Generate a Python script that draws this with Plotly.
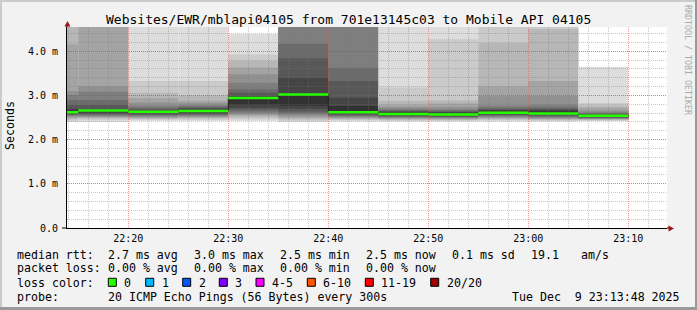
import plotly.graph_objects as go

# ---------------- data ----------------
DAY = "2025-12-09"
step_end = ["22:15", "22:20", "22:25", "22:30", "22:35", "22:40",
            "22:45", "22:50", "22:55", "23:00", "23:05", "23:10"]
step_minutes = 5
median_ms = [2.62, 2.66, 2.63, 2.65, 2.94, 3.02, 2.62, 2.58, 2.57, 2.61, 2.59, 2.54]

# sorted ping round-trip times (20 pings per step), ms
pings_2215 = [2.40, 2.43, 2.46, 2.49, 2.52, 2.54, 2.56, 2.57, 2.59, 2.60,
              2.66, 2.70, 2.79, 2.89, 3.01, 3.10, 4.16, 4.80, 4.90, 5.00]
pings_2220 = [2.40, 2.45, 2.48, 2.50, 2.52, 2.54, 2.56, 2.58, 2.60, 2.63,
              2.67, 2.69, 2.79, 2.89, 3.09, 3.21, 4.80, 4.90, 5.00, 5.10]
pings_2225 = [2.42, 2.45, 2.47, 2.49, 2.51, 2.53, 2.55, 2.57, 2.59, 2.62,
              2.64, 2.66, 2.69, 2.72, 2.77, 2.84, 2.94, 3.06, 3.33, 5.00]
pings_2230 = [2.42, 2.45, 2.48, 2.50, 2.52, 2.54, 2.56, 2.58, 2.60, 2.63,
              2.67, 2.70, 2.72, 2.75, 2.78, 2.83, 2.88, 3.00, 3.33, 5.00]
pings_2235 = [2.42, 2.46, 2.50, 2.54, 2.57, 2.60, 2.64, 2.68, 2.72, 2.79,
              2.95, 2.99, 3.06, 3.14, 3.29, 3.48, 3.63, 3.78, 3.93, 4.39]
pings_2240 = [2.40, 2.43, 2.46, 2.49, 2.53, 2.57, 2.60, 2.64, 2.70, 2.77,
              3.03, 3.40, 3.84, 4.17, 4.80, 4.90, 5.00, 5.10, 5.20, 5.30]
pings_2245 = [2.41, 2.44, 2.46, 2.48, 2.50, 2.52, 2.54, 2.56, 2.58, 2.60,
              2.76, 2.95, 3.33, 3.63, 4.80, 4.90, 5.00, 5.10, 5.20, 5.30]
pings_2250 = [2.41, 2.43, 2.45, 2.47, 2.48, 2.50, 2.51, 2.53, 2.55, 2.57,
              2.61, 2.63, 2.65, 2.67, 2.70, 2.74, 2.79, 2.88, 3.18, 5.00]
pings_2255 = [2.41, 2.43, 2.45, 2.46, 2.48, 2.49, 2.51, 2.52, 2.54, 2.56,
              2.60, 2.62, 2.64, 2.66, 2.69, 2.74, 2.82, 2.89, 4.27, 5.00]
pings_2300 = [2.41, 2.44, 2.46, 2.48, 2.50, 2.52, 2.54, 2.56, 2.58, 2.60,
              2.64, 2.67, 2.69, 2.72, 2.77, 2.98, 3.21, 4.19, 5.00, 5.10]
pings_2305 = [2.41, 2.43, 2.45, 2.47, 2.48, 2.50, 2.52, 2.54, 2.56, 2.58,
              2.64, 2.67, 2.70, 2.73, 2.79, 2.99, 3.33, 4.50, 4.60, 5.00]
pings_2310 = [2.42, 2.43, 2.45, 2.46, 2.47, 2.48, 2.49, 2.50, 2.51, 2.53,
              2.56, 2.57, 2.58, 2.60, 2.62, 2.66, 2.72, 2.77, 2.83, 3.65]
step_pings = [pings_2215, pings_2220, pings_2225, pings_2230, pings_2235, pings_2240,
              pings_2245, pings_2250, pings_2255, pings_2300, pings_2305, pings_2310]

x_range = [DAY + " 22:13:52", DAY + " 23:13:52"]
y_max = 4.55
y_tick_vals = [0, 1, 2, 3, 4]
y_tick_text = ["0.0", "1.0 m", "2.0 m", "3.0 m", "4.0 m"]

title_text = "Websites/EWR/mblapi04105 from 701e13145c03 to Mobile API 04105"
rtt_items = ["median rtt:", "2.7 ms avg", "3.0 ms max", "2.5 ms min",
             "2.5 ms now", "0.1 ms sd", "19.1", "am/s"]
loss_items = ["packet loss:", "0.00 % avg", "0.00 % max", "0.00 % min", "0.00 % now"]
loss_color_labels = ["0", "1", "2", "3", "4-5", "6-10", "11-19", "20/20"]
loss_colors = ["#26ff00", "#00b8ff", "#0059ff", "#7e00ff", "#ff00ff", "#ff5500", "#ff0000", "#a10000"]
probe_items = ["probe:", "20 ICMP Echo Pings (56 Bytes) every 300s"]
date_text = "Tue Dec\u00a0\u00a09 23:13:48 2025"

# ---------------- layout helpers ----------------
W, H = 697, 310
ML, MR, MT, MB = 67, 30, 27, 82
PW, PH = W - ML - MR, H - MT - MB
FONT = "DejaVu Sans Mono"


def px(x):
    return (x - ML) / PW


def py(y):
    return (H - MB - y) / PH


def ts(hm):
    return f"{DAY} {hm}:00"


def minus5(hm):
    h, m = map(int, hm.split(":"))
    t = h * 60 + m - step_minutes
    return f"{t // 60:02d}:{t % 60:02d}"


step_start = [minus5(e) for e in step_end]

fig = go.Figure()
shapes = []

# smoke (SmokePing style: nested bands, inner darker)
half = 10
for s, e, p in zip(step_start, step_end, step_pings):
    for i in range(1, half + 1):
        g = int(190 / half * (half - i)) + 50
        shapes.append(dict(type="rect", xref="x", yref="y", layer="below",
                           x0=ts(s), x1=ts(e), y0=p[i - 1], y1=p[20 - i],
                           fillcolor=f"rgb({g},{g},{g})", line=dict(width=0)))

# median dark line (with vertical transitions)
mx = [ts(s) for s in step_start] + [ts(step_end[-1])]
my = median_ms + [median_ms[-1]]
fig.add_trace(go.Scatter(x=mx, y=my, mode="lines", line=dict(color="#202020", width=1, shape="hv"),
                         hoverinfo="skip", showlegend=False))
# green loss-colored median segments
gx, gy = [], []
for s, e, m in zip(step_start, step_end, median_ms):
    gx += [ts(s), ts(e), None]
    gy += [m, m, None]
fig.add_trace(go.Scatter(x=gx, y=gy, mode="lines", line=dict(color=loss_colors[0], width=2.5),
                         hoverinfo="skip", showlegend=False))

# frame shading
shapes += [
    dict(type="rect", xref="paper", yref="paper", x0=px(0), x1=px(W), y0=py(0), y1=py(2),
         fillcolor="#cbcbcb", line=dict(width=0)),
    dict(type="rect", xref="paper", yref="paper", x0=px(0), x1=px(2), y0=py(0), y1=py(H),
         fillcolor="#cbcbcb", line=dict(width=0)),
    dict(type="rect", xref="paper", yref="paper", x0=px(0), x1=px(W), y0=py(H - 3), y1=py(H),
         fillcolor="#999999", line=dict(width=0)),
    dict(type="rect", xref="paper", yref="paper", x0=px(W - 2), x1=px(W), y0=py(0), y1=py(H),
         fillcolor="#999999", line=dict(width=0)),
]

# axis extensions and arrows
shapes += [
    dict(type="line", xref="paper", yref="paper", x0=px(62), x1=px(67), y0=py(228), y1=py(228),
         line=dict(color="black", width=1)),
    dict(type="line", xref="paper", yref="paper", x0=px(67), x1=px(67), y0=py(27), y1=py(24),
         line=dict(color="black", width=1)),
    dict(type="line", xref="paper", yref="paper", x0=px(667), x1=px(669), y0=py(228), y1=py(228),
         line=dict(color="black", width=1)),
    dict(type="path", xref="paper", yref="paper",
         path=f"M {px(64.5)} {py(26.5)} L {px(70.5)} {py(26.5)} L {px(67.5)} {py(21)} Z",
         fillcolor="#a31515", line=dict(width=0)),
    dict(type="path", xref="paper", yref="paper",
         path=f"M {px(668.5)} {py(225.5)} L {px(668.5)} {py(231.5)} L {px(674)} {py(228.5)} Z",
         fillcolor="#a31515", line=dict(width=0)),
]

annotations = []


def text(x, y, t, size=11.6, xanchor="left", color="black", angle=0):
    annotations.append(dict(xref="paper", yref="paper", x=px(x), y=py(y), text=t,
                            showarrow=False, xanchor=xanchor, yanchor="middle",
                            textangle=angle, borderpad=0,
                            font=dict(family=FONT, size=size, color=color)))


text(348.5, 19.5, title_text, size=13, xanchor="center")
text(10, 126, "Seconds", size=11.6, xanchor="center", angle=-90)
text(688, 60, "RRDTOOL / TOBI OETIKER", size=8.3, xanchor="center", color="#aaaaaa", angle=90)

rtt_x = [16, 107.3, 193.3, 279.3, 365, 451, 530, 580]
for x, t in zip(rtt_x, rtt_items):
    text(x, 254.7, t)
for x, t in zip(rtt_x, loss_items):
    text(x, 268.3, t)
text(16, 282.5, "loss color:")
sw_x = [108.3, 145.7, 182.7, 219.3, 256, 307.3, 365.3, 430.7]
for x, lab, col in zip(sw_x, loss_color_labels, loss_colors):
    shapes.append(dict(type="rect", xref="paper", yref="paper", x0=px(x), x1=px(x + 8),
                       y0=py(286.3), y1=py(278.3), fillcolor=col,
                       line=dict(color="black", width=1)))
    text(x + 15, 282.5, lab)
text(16, 296.8, probe_items[0])
text(107.3, 296.8, probe_items[1])
text(680.5, 296.8, date_text, xanchor="right")

fig.update_layout(
    width=W, height=H, margin=dict(l=ML, r=MR, t=MT, b=MB, autoexpand=False),
    paper_bgcolor="#f2f2f2", plot_bgcolor="#ffffff",
    shapes=shapes, annotations=annotations, showlegend=False,
    font=dict(family=FONT, size=10, color="black"),
)
fig.update_xaxes(
    type="date", range=x_range, showline=True, linecolor="black", linewidth=1,
    tickformat="%H:%M", dtick=600000, tick0=DAY + " 00:00:00", ticks="", ticklabelstandoff=1,
    showgrid=True, gridcolor="rgba(235,40,40,0.45)", griddash="1px,1px", gridwidth=1,
    minor=dict(dtick=120000, tick0=DAY + " 00:00:00", showgrid=True,
               gridcolor="rgba(120,120,120,0.4)", griddash="1px,1px", gridwidth=1),
    tickfont=dict(family=FONT, size=10), zeroline=False, fixedrange=True,
)
fig.update_yaxes(
    range=[0, y_max], showline=True, linecolor="black", linewidth=1,
    tickmode="array", tickvals=y_tick_vals, ticktext=y_tick_text, ticks="", ticklabelstandoff=6,
    showgrid=True, gridcolor="rgba(235,40,40,0.45)", griddash="1px,1px", gridwidth=1,
    minor=dict(tickmode="linear", tick0=0, dtick=0.2, showgrid=True,
               gridcolor="rgba(120,120,120,0.4)", griddash="1px,1px", gridwidth=1),
    tickfont=dict(family=FONT, size=10), zeroline=False, fixedrange=True,
)

fig.write_html("out.html", config={"displayModeBar": False})
